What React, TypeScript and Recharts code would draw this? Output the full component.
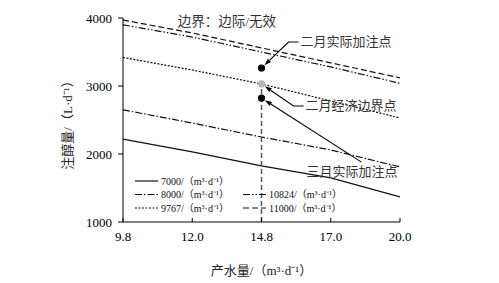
import { LineChart, Line, XAxis, YAxis, Legend, ReferenceDot, ReferenceLine } from 'recharts'

// 产水量 categories and 注醇量 curves for each gas rate
const xCats = ['9.8', '12.0', '14.8', '17.0', '20.0']
const q7000 = [2220, 2030, 1825, 1650, 1370]
const q8000 = [2650, 2455, 2250, 2060, 1810]
const q9767 = [3420, 3235, 3030, 2780, 2530]
const q10824 = [3900, 3720, 3500, 3280, 3040]
const q11000 = [3970, 3780, 3560, 3340, 3120]
const yTicks = [1000, 2000, 3000, 4000]

const markX = '14.8'
const markNames = ['二月实际加注点', '二月经济边界点', '三月实际加注点']
const markValues = [3265, 3030, 2822]

const unit = '/（m³·d⁻¹）'
const seriesKeys = ['q7000', 'q8000', 'q9767', 'q10824', 'q11000']
const seriesNames = ['7000', '8000', '9767', '10824', '11000']
const seriesValues = [q7000, q8000, q9767, q10824, q11000]

const FONT = "'Liberation Serif', 'Times New Roman', 'Noto Sans CJK SC', serif"
const dashes: Record<string, string | undefined> = {
  q7000: undefined,
  q8000: '7 2 1.5 2',
  q9767: '2 1.5',
  q10824: '7 2 1.5 2 1.5 2',
  q11000: '6 3',
}

const data = xCats.map((x, i) => {
  const row: Record<string, string | number> = { x }
  seriesKeys.forEach((k, j) => { row[k] = seriesValues[j][i] })
  return row
})

// annotation offsets relative to each marker dot
const markLayout = [
  { fill: '#000', elbow: [27, -26], end: [37, -26], text: [39, -26] },
  { fill: '#b4b4b4', elbow: [32, 22], end: [42, 22], text: [44, 22] },
  { fill: '#000', elbow: [100, 64], end: [100, 64], text: [45, 73] },
]

function Marker(props: any) {
  const { cx, cy, idx } = props
  const L = markLayout[idx]
  const [ex, ey] = L.elbow
  const len = Math.hypot(ex, ey)
  const ux = ex / len
  const uy = ey / len
  const tipX = cx + ux * 4
  const tipY = cy + uy * 4
  const bx = tipX + ux * 7
  const by = tipY + uy * 7
  const px = -uy * 2.3
  const py = ux * 2.3
  return (
    <g>
      <polyline
        points={`${bx},${by} ${cx + ex},${cy + ey} ${cx + L.end[0]},${cy + L.end[1]}`}
        fill="none" stroke="#000" strokeWidth={1.1}
      />
      <polygon points={`${tipX},${tipY} ${bx + px},${by + py} ${bx - px},${by - py}`} fill="#000" />
      <circle cx={cx} cy={cy} r={3.6} fill={L.fill} />
      <text x={cx + L.text[0]} y={cy + L.text[1]} dominantBaseline="central"
        fontSize={13} fontFamily={FONT} fill="#333">{markNames[idx]}</text>
    </g>
  )
}

function XTick(props: any) {
  const { x, y, payload } = props
  const base = y - 10
  return (
    <g>
      <line x1={x} x2={x} y1={base} y2={base - 4} stroke="#000" />
      <text x={x} y={y} dy="0.71em" textAnchor="middle" fontSize={13} fontFamily={FONT} fill="#000">
        {payload.value}
      </text>
    </g>
  )
}

function LegendBox() {
  const pos = [[0, 9], [0, 22.5], [0, 36], [108, 22.5], [108, 36]]
  return (
    <svg width={240} height={45} style={{ display: 'block', overflow: 'visible' }}>
      {seriesKeys.map((k, i) => {
        const [lx, ly] = pos[i]
        return (
          <g key={k}>
            <line x1={lx + 5} x2={lx + 28} y1={ly} y2={ly} stroke="#111" strokeWidth={1.2}
              strokeDasharray={dashes[k]} />
            <text x={lx + 31} y={ly} dominantBaseline="central" fontSize={10} fontFamily={FONT} fill="#111">
              {seriesNames[i] + unit}
            </text>
          </g>
        )
      })}
    </svg>
  )
}

export default function App() {
  return (
    <div style={{ width: 499, height: 283, background: '#fff' }}>
      <style>{'body{margin:0}'}</style>
      <LineChart width={499} height={283} data={data} margin={{ top: 18, right: 99, bottom: 31, left: 55 }}>
        <XAxis
          dataKey="x"
          height={30}
          axisLine={{ stroke: '#000' }}
          tickLine={false}
          tickSize={0}
          tickMargin={10}
          tick={<XTick />}
          interval={0}
          label={{
            content: (p: any) => {
              const vb = p.viewBox
              return (
                <text x={vb.x + vb.width / 2} y={vb.y + 48} textAnchor="middle" dominantBaseline="central"
                  fontSize={13} fontFamily={FONT} fill="#222">{'产水量' + unit}</text>
              )
            },
          }}
        />
        <YAxis
          width={68}
          domain={[1000, 4000]}
          ticks={yTicks}
          axisLine={{ stroke: '#000' }}
          tickLine={{ stroke: '#000' }}
          tickSize={5}
          tickMargin={6}
          tick={{ fontSize: 13, fontFamily: FONT, fill: '#000' }}
          label={{
            content: (p: any) => {
              const vb = p.viewBox
              return (
                <text transform={`translate(${vb.x + 12}, ${vb.y + vb.height / 2 + 2}) rotate(-90)`}
                  textAnchor="middle" dominantBaseline="central" fontSize={13} fontFamily={FONT} fill="#222">
                  注醇量/（L·d⁻¹）
                </text>
              )
            },
          }}
        />
        {seriesKeys.map(k => (
          <Line key={k} dataKey={k} stroke="#111" strokeWidth={1.2} strokeDasharray={dashes[k]}
            dot={false} activeDot={false} isAnimationActive={false} />
        ))}
        <ReferenceLine
          segment={[{ x: markX, y: 1000 }, { x: markX, y: markValues[1] }]}
          stroke="#555" strokeWidth={1.5} strokeDasharray="5 3"
        />
        {markValues.map((v, i) => (
          <ReferenceDot key={i} x={markX} y={v} r={3.6}
            shape={(p: any) => <Marker {...p} idx={i} />} />
        ))}
        <Legend
          layout="vertical" align="center" verticalAlign="middle"
          content={() => <LegendBox />}
          wrapperStyle={{ left: 130, top: 172, width: 240, height: 45 }}
        />
        <text x={227} y={21} textAnchor="middle" dominantBaseline="central" fontSize={13.5}
          fontFamily={FONT} fill="#333">边界：边际/无效</text>
      </LineChart>
    </div>
  )
}
